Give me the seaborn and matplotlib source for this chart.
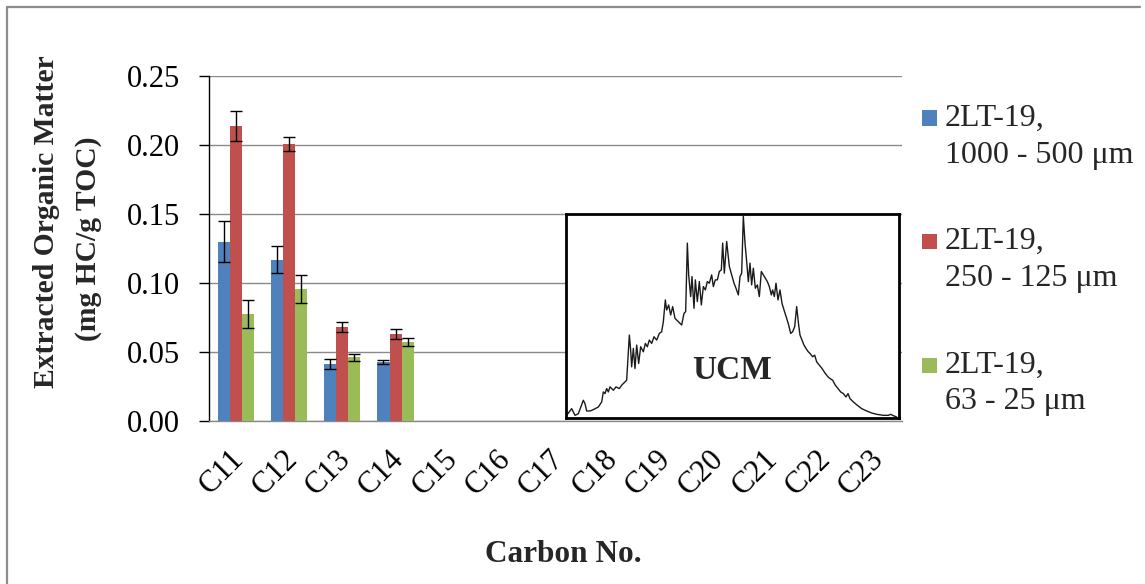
import numpy as np
import pandas as pd
import matplotlib
matplotlib.use("Agg")
import matplotlib.pyplot as plt
import matplotlib.transforms as mtransforms
from matplotlib.lines import Line2D
from matplotlib.patches import Rectangle
import seaborn as sns

# ---- data ---------------------------------------------------------------
carbon_numbers = ["C11", "C12", "C13", "C14", "C15", "C16", "C17",
                  "C18", "C19", "C20", "C21", "C22", "C23"]
measured = ["C11", "C12", "C13", "C14"]

fractions = ["2LT-19,\n1000 - 500 \u03bcm",
             "2LT-19,\n250 - 125 \u03bcm",
             "2LT-19,\n63 - 25 \u03bcm"]

mean_1000_500 = [0.130, 0.117, 0.041, 0.0425]
err_1000_500 = [0.015, 0.010, 0.0036, 0.0015]
mean_250_125 = [0.214, 0.201, 0.068, 0.063]
err_250_125 = [0.011, 0.005, 0.0034, 0.0036]
mean_63_25 = [0.0775, 0.0957, 0.0461, 0.0572]
err_63_25 = [0.010, 0.010, 0.0025, 0.0027]

colors = ["#4F81BD", "#C0504D", "#9BBB59"]

yticks = [0.00, 0.05, 0.10, 0.15, 0.20, 0.25]

# unresolved complex mixture trace (retention position, detector response)
ucm_time = [2, 17, 27, 37, 52, 57, 62, 72, 82, 97,
            107, 112, 117, 122, 127, 132, 142, 150, 160, 167,
            177, 182, 190, 194, 197, 202, 207, 212, 218, 224,
            232, 238, 244, 250, 257, 264, 272, 280, 287, 292,
            298, 302, 308, 314, 320, 327, 337, 347, 354, 359,
            364, 368, 374, 378, 384, 388, 394, 400, 406, 412,
            418, 424, 430, 437, 442, 448, 454, 460, 466, 470,
            475, 482, 490, 497, 504, 510, 517, 522, 527, 532,
            537, 542, 547, 552, 557, 562, 568, 574, 580, 586,
            592, 598, 604, 610, 616, 620, 625, 630, 636, 642,
            648, 654, 662, 668, 674, 680, 686, 692, 698, 702,
            708, 714, 720, 726, 732, 740, 746, 752, 760, 768,
            778, 786, 792, 800, 808, 816, 824, 832, 840, 846,
            852, 862, 874, 887, 902, 917, 932, 952, 967, 974,
            982, 992]
ucm_signal = [8, 28, 8, 13, 53, 43, 21, 21, 25, 33,
              48, 78, 73, 88, 78, 93, 83, 93, 88, 98,
              108, 113, 248, 203, 153, 208, 148, 218, 163, 213,
              198, 223, 213, 233, 223, 243, 233, 253, 258, 288,
              353, 323, 338, 308, 333, 298, 288, 278, 313, 318,
              523, 428, 363, 423, 328, 413, 348, 408, 338, 393,
              383, 408, 403, 428, 393, 413, 413, 438, 443, 523,
              433, 528, 453, 428, 403, 388, 368, 423, 433, 603,
              523, 468, 408, 463, 398, 448, 388, 398, 363, 438,
              428, 418, 408, 393, 368, 383, 363, 403, 353, 383,
              343, 323, 298, 278, 253, 258, 273, 333, 278, 248,
              233, 218, 208, 199, 193, 183, 188, 168, 158, 148,
              133, 123, 118, 113, 98, 88, 78, 73, 63, 73,
              58, 48, 38, 28, 21, 15, 11, 8, 8, 11,
              7, 3]

# ---- long table for seaborn ---------------------------------------------
means = [mean_1000_500, mean_250_125, mean_63_25]
errs = [err_1000_500, err_250_125, err_63_25]
rows = []
for frac, m_list, e_list in zip(fractions, means, errs):
    for c, m, e in zip(measured, m_list, e_list):
        rows.append({"carbon": c, "fraction": frac, "value": m, "err": e})
df = pd.DataFrame(rows)

# ---- figure ---------------------------------------------------------------
sns.set_style("white")
plt.rcParams["font.family"] = ["Liberation Serif", "DejaVu Serif"]

W, H = 1145, 584
fig = plt.figure(figsize=(W / 100, H / 100), dpi=100)
fig.patch.set_facecolor("white")

def fx(px):
    return px / W

def fy(py):
    return 1 - py / H

ax = fig.add_axes([fx(209), fy(421), fx(902) - fx(209), fy(76) - fy(421)])

bar_width = 0.68
sns.barplot(data=df, x="carbon", y="value", hue="fraction",
            order=carbon_numbers, hue_order=fractions, palette=colors,
            width=bar_width, errorbar=None, saturation=1, legend=False,
            linewidth=0, ax=ax, zorder=3)

# error bars at the dodged bar centres
n_hue = len(fractions)
for j, frac in enumerate(fractions):
    sub = df[df["fraction"] == frac]
    pos = [carbon_numbers.index(c) + (j - (n_hue - 1) / 2) * bar_width / n_hue
           for c in sub["carbon"]]
    ax.errorbar(pos, sub["value"], yerr=sub["err"], fmt="none",
                ecolor="black", elinewidth=1.0, capsize=4, capthick=1.0,
                zorder=4)

ax.set_xlim(-0.5, len(carbon_numbers) - 0.5)
ax.set_ylim(0, 0.25)
ax.set_yticks(yticks)
ax.set_yticklabels([f"{v:.2f}" for v in yticks])
ax.yaxis.grid(True, color="#8a8a8a", linewidth=1.0, zorder=0)
ax.xaxis.grid(False)
ax.set_axisbelow(True)

for side in ["top", "right"]:
    ax.spines[side].set_visible(False)
ax.spines["left"].set_color("black")
ax.spines["left"].set_linewidth(1.0)
ax.spines["bottom"].set_color("#8a8a8a")
ax.spines["bottom"].set_linewidth(1.0)

ax.tick_params(axis="y", direction="out", length=7, width=1.0,
               color="black", pad=14, labelsize=22, labelcolor="black",
               left=True)
ax.tick_params(axis="x", length=0, pad=17, labelsize=22,
               labelcolor="black")
shift = mtransforms.ScaledTranslation(-6 / 100, 0, fig.dpi_scale_trans)
for lab in ax.get_xticklabels():
    lab.set_rotation(45)
    lab.set_ha("right")
    lab.set_rotation_mode("anchor")
    lab.set_transform(lab.get_transform() + shift)
ax.set_xlabel("")
ax.set_ylabel("")

# axis titles
fig.text(fx(47), fy(222), "Extracted Organic Matter", rotation=90,
         ha="center", va="center", fontsize=21.3, fontweight="bold")
fig.text(fx(88), fy(239), "(mg HC/g TOC)", rotation=90,
         ha="center", va="center", fontsize=21.3, fontweight="bold")
fig.text(fx(563), fy(555), "Carbon No.", ha="center", va="center",
         fontsize=22.5, fontweight="bold")

# legend
legend_rows = [118, 241.5, 365]
for color, label, yrow in zip(colors, fractions, legend_rows):
    fig.add_artist(Rectangle((fx(922), fy(yrow + 7.5)), fx(15), 15 / H,
                             facecolor=color, edgecolor="none",
                             transform=fig.transFigure))
    first, second = label.split("\n")
    fig.text(fx(945), fy(yrow), first, ha="left", va="center", fontsize=23)
    fig.text(fx(945), fy(yrow + 37), second, ha="left", va="center",
             fontsize=23)

# inset chromatogram
ax_in = fig.add_axes([fx(566), fy(418), fx(899) - fx(566), fy(214) - fy(418)])
ax_in.set_facecolor("white")
sns.lineplot(x=ucm_time, y=ucm_signal, sort=False, color="#1a1a1a",
             linewidth=1.0, ax=ax_in)
ax_in.set_xlim(0, 999)
ax_in.set_ylim(0, 610)
ax_in.set_xticks([])
ax_in.set_yticks([])
ax_in.set_xlabel("")
ax_in.set_ylabel("")
for sp in ax_in.spines.values():
    sp.set_visible(True)
    sp.set_color("black")
    sp.set_linewidth(2.0)
ax_in.text(497, 143, "UCM", ha="center", va="center", fontsize=24,
           fontweight="bold")

# outer frame (left and top edges)
frame_color = "#8c8c8c"
fig.add_artist(Line2D([fx(7), fx(7)], [0, fy(7)], color=frame_color,
                      linewidth=1.6, transform=fig.transFigure))
fig.add_artist(Line2D([fx(7), fx(1140)], [fy(7), fy(7)], color=frame_color,
                      linewidth=1.6, transform=fig.transFigure))

fig.savefig("out.png", dpi=100, facecolor="white")
